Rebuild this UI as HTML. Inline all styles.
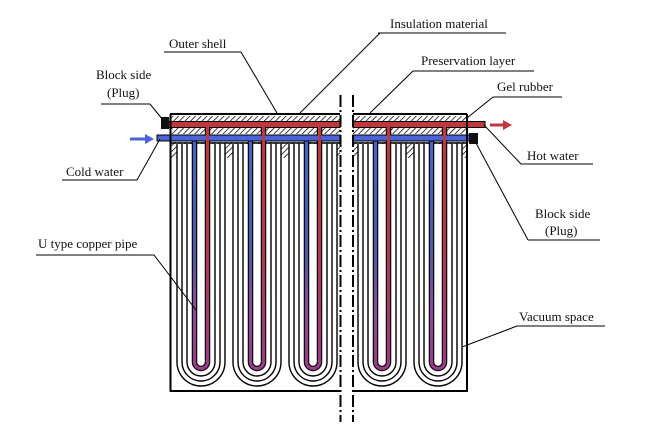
<!DOCTYPE html>
<html><head><meta charset="utf-8"><style>
html,body{margin:0;padding:0;background:#fff;}
svg{display:block;}
text{font-family:"Liberation Serif",serif;font-size:13px;fill:#111;}
</style></head><body>
<svg width="654" height="426" viewBox="0 0 654 426" xmlns="http://www.w3.org/2000/svg">
<defs>
<pattern id="h" width="4" height="4" patternUnits="userSpaceOnUse" patternTransform="rotate(45)">
<rect width="4" height="4" fill="#fff"/><line x1="0" y1="0" x2="0" y2="4" stroke="#000" stroke-width="1.5"/>
</pattern>
<linearGradient id="gb" gradientUnits="userSpaceOnUse" x1="0" y1="140" x2="0" y2="370">
<stop offset="0" stop-color="#4a63c8"/><stop offset="0.45" stop-color="#4a5aa8"/><stop offset="0.75" stop-color="#8a4a98"/><stop offset="1" stop-color="#9a3a8a"/></linearGradient>
<linearGradient id="gr" gradientUnits="userSpaceOnUse" x1="0" y1="125" x2="0" y2="370">
<stop offset="0" stop-color="#c0383c"/><stop offset="0.5" stop-color="#b0384c"/><stop offset="1" stop-color="#9a3a8a"/></linearGradient>
</defs>

<rect x="170" y="142" width="170" height="16" fill="url(#h)"/>
<rect x="353" y="142" width="114" height="16" fill="url(#h)"/>
<line x1="170" y1="143" x2="340" y2="143" stroke="#000" stroke-width="1.5"/>
<line x1="353" y1="143" x2="467" y2="143" stroke="#000" stroke-width="1.5"/>

<g fill="#fff">
<rect x="177" y="144" width="48" height="245"/>
<rect x="233" y="144" width="48" height="245"/>
<rect x="289" y="144" width="48" height="245"/>
<rect x="358" y="144" width="48" height="245"/>
<rect x="414" y="144" width="48" height="245"/>
<rect x="171" y="158" width="296" height="232"/>
</g>
<g fill="none" stroke="#000" stroke-width="1.4">
<path d="M177 144 V362 A24 24 0 0 0 225 362 V144"/>
<path d="M182 144 V362 A19 19 0 0 0 220 362 V144"/>
<path d="M187 144 V362 A14 14 0 0 0 215 362 V144"/>
<path d="M233 144 V362 A24 24 0 0 0 281 362 V144"/>
<path d="M238 144 V362 A19 19 0 0 0 276 362 V144"/>
<path d="M243 144 V362 A14 14 0 0 0 271 362 V144"/>
<path d="M289 144 V362 A24 24 0 0 0 337 362 V144"/>
<path d="M294 144 V362 A19 19 0 0 0 332 362 V144"/>
<path d="M299 144 V362 A14 14 0 0 0 327 362 V144"/>
<path d="M358 144 V362 A24 24 0 0 0 406 362 V144"/>
<path d="M363 144 V362 A19 19 0 0 0 401 362 V144"/>
<path d="M368 144 V362 A14 14 0 0 0 396 362 V144"/>
<path d="M414 144 V362 A24 24 0 0 0 462 362 V144"/>
<path d="M419 144 V362 A19 19 0 0 0 457 362 V144"/>
<path d="M424 144 V362 A14 14 0 0 0 452 362 V144"/>
</g>
<g fill="none" stroke="#000" stroke-width="5.5">
<path d="M194.5 141 V362 A6.5 6.5 0 0 0 207.5 362 V126"/>
<path d="M250.5 141 V362 A6.5 6.5 0 0 0 263.5 362 V126"/>
<path d="M306.5 141 V362 A6.5 6.5 0 0 0 319.5 362 V126"/>
<path d="M375.5 141 V362 A6.5 6.5 0 0 0 388.5 362 V126"/>
<path d="M431.5 141 V362 A6.5 6.5 0 0 0 444.5 362 V126"/>
</g>
<g fill="none" stroke="url(#gb)" stroke-width="3.2">
<path d="M194.5 141 V362"/><path d="M250.5 141 V362"/><path d="M306.5 141 V362"/><path d="M375.5 141 V362"/><path d="M431.5 141 V362"/>
</g>
<g fill="none" stroke="url(#gr)" stroke-width="3.2">
<path d="M207.5 126 V362"/><path d="M263.5 126 V362"/><path d="M319.5 126 V362"/><path d="M388.5 126 V362"/><path d="M444.5 126 V362"/>
</g>
<g fill="none" stroke="#9a3a8a" stroke-width="3.2">
<path d="M194.5 362 A6.5 6.5 0 0 0 207.5 362"/>
<path d="M250.5 362 A6.5 6.5 0 0 0 263.5 362"/>
<path d="M306.5 362 A6.5 6.5 0 0 0 319.5 362"/>
<path d="M375.5 362 A6.5 6.5 0 0 0 388.5 362"/>
<path d="M431.5 362 A6.5 6.5 0 0 0 444.5 362"/>
</g>

<line x1="170" y1="114" x2="340" y2="114" stroke="#000" stroke-width="2"/>
<rect x="170" y="116" width="170" height="5" fill="url(#h)"/>
<rect x="170" y="128" width="170" height="6" fill="url(#h)"/>
<rect x="353" y="116" width="114" height="5" fill="url(#h)"/>
<rect x="353" y="128" width="114" height="6" fill="url(#h)"/>
<line x1="353" y1="114" x2="467" y2="114" stroke="#000" stroke-width="2"/>
<rect x="168" y="121.5" width="172" height="6" fill="#c0383c" stroke="#000" stroke-width="1"/>
<rect x="353" y="121.5" width="132" height="6" fill="#c0383c" stroke="#000" stroke-width="1"/>
<rect x="157" y="135" width="183" height="6" fill="#4a63d8" stroke="#000" stroke-width="1"/>
<rect x="353" y="135" width="117" height="6" fill="#4a63d8" stroke="#000" stroke-width="1"/>
<g stroke="#000" stroke-width="5.5">
<path d="M207.5 127.5 V135"/><path d="M263.5 127.5 V135"/><path d="M319.5 127.5 V135"/><path d="M388.5 127.5 V135"/><path d="M444.5 127.5 V135"/>
</g>
<g stroke="#c0383c" stroke-width="3.2">
<path d="M207.5 126 V142"/><path d="M263.5 126 V142"/><path d="M319.5 126 V142"/><path d="M388.5 126 V142"/><path d="M444.5 126 V142"/>
</g>
<rect x="161" y="117" width="8" height="12" fill="#111"/>
<rect x="469" y="133" width="9" height="11" fill="#111"/>
<path d="M170.5 114 V391 H340 M353 391 H467 V114" fill="none" stroke="#000" stroke-width="2"/>
<path d="M130 139 H147" stroke="#4a63d8" stroke-width="3"/>
<path d="M145 134 L154 139 L145 144 Z" fill="#4a63d8"/>
<path d="M490 125 H505" stroke="#c0383c" stroke-width="3"/>
<path d="M503 120 L512 125 L503 130 Z" fill="#c0383c"/>
<line x1="340.5" y1="95" x2="340.5" y2="422" stroke="#000" stroke-width="2" stroke-dasharray="12,3,2,3"/>
<line x1="353" y1="95" x2="353" y2="422" stroke="#000" stroke-width="2" stroke-dasharray="12,3,2,3"/>

<g stroke="#000" stroke-width="1" fill="none">
<path d="M378 33 H506 M380 33 L300 113"/>
<path d="M164 52 H241 L277 113"/>
<path d="M413 71 H534 M413 71 L370 113"/>
<path d="M493 97 H562 M493 97 L467 118"/>
<path d="M101 104 H150 L163 120"/>
<path d="M62 180 H137 L160 139"/>
<path d="M521 164 H593 M521 164 L484 125"/>
<path d="M528 240 H600 M528 240 L476 143"/>
<path d="M36 255 H154 L196 310"/>
<path d="M517 326 H605 M517 326 L462 347"/>
</g>
<text x="390" y="28">Insulation material</text>
<text x="169" y="48">Outer shell</text>
<text x="421" y="65">Preservation layer</text>
<text x="497" y="91">Gel rubber</text>
<text x="96" y="79">Block side</text>
<text x="107" y="97">(Plug)</text>
<text x="66" y="176">Cold water</text>
<text x="527" y="160">Hot water</text>
<text x="535" y="218">Block side</text>
<text x="545" y="235">(Plug)</text>
<text x="38" y="248">U type copper pipe</text>
<text x="519" y="321">Vacuum space</text>
</svg>
</body></html>
